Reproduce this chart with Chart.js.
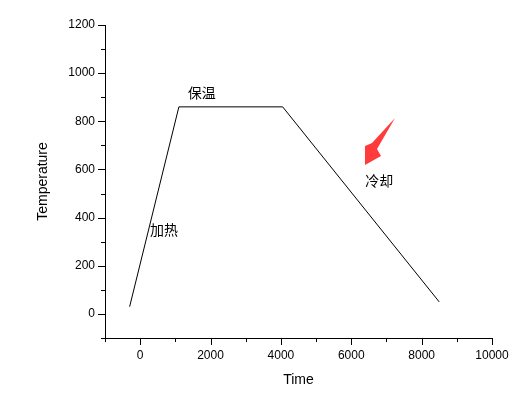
<!DOCTYPE html>
<html lang="zh">
<head>
    <meta charset="UTF-8">
    <title>Temperature vs Time</title>
    <style>
        html, body { margin: 0; padding: 0; background: #fff; }
        .wrap { width: 526px; height: 398px; }
    </style>
    <script src="https://cdn.jsdelivr.net/npm/chart.js"></script>
</head>
<body>
    <div class="wrap"><canvas id="chart" width="526" height="398"></canvas></div>
    <script>
        // process curve: heat up, hold, cool down
        const times = [-300, 1100, 4050, 8500];
        const temps = [30, 860, 860, 50];

        const xTickLabels = [0, 2000, 4000, 6000, 8000, 10000];
        const yTickLabels = [0, 200, 400, 600, 800, 1000, 1200];

        // text labels placed at data positions
        const notes = [
            { text: '保温', x: 1350, y: 920 },
            { text: '加热', x: 280, y: 350 },
            { text: '冷却', x: 6400, y: 555 }
        ];

        const font = "'Liberation Sans', Arial, sans-serif";

        const extras = {
            id: 'extras',
            afterDraw(chart) {
                const ctx = chart.ctx;
                const xs = chart.scales.x, ys = chart.scales.y;
                const area = chart.chartArea;
                ctx.save();
                ctx.strokeStyle = '#000';
                ctx.lineWidth = 1;
                // x tick marks (major at labels, minor between)
                for (let v = -1000; v <= 10000; v += 1000) {
                    const px = Math.round(xs.getPixelForValue(v)) + 0.5;
                    const len = xTickLabels.includes(v) ? 7 : 4;
                    ctx.beginPath();
                    ctx.moveTo(px, area.bottom);
                    ctx.lineTo(px, area.bottom + len);
                    ctx.stroke();
                }
                // y tick marks
                for (let v = -100; v <= 1200; v += 100) {
                    const py = Math.round(ys.getPixelForValue(v)) + 0.5;
                    const len = yTickLabels.includes(v) ? 7 : 4;
                    ctx.beginPath();
                    ctx.moveTo(area.left, py);
                    ctx.lineTo(area.left - len, py);
                    ctx.stroke();
                }
                // chinese notes
                ctx.fillStyle = '#000';
                ctx.font = "14px 'Noto Sans CJK SC', sans-serif";
                ctx.textAlign = 'left';
                ctx.textBaseline = 'middle';
                notes.forEach(n => {
                    ctx.fillText(n.text, xs.getPixelForValue(n.x), ys.getPixelForValue(n.y));
                });
                // red arrow pointing at the cooling label
                ctx.fillStyle = '#ff3b3b';
                ctx.beginPath();
                ctx.moveTo(395, 118);
                ctx.lineTo(377, 149);
                ctx.lineTo(381, 156);
                ctx.lineTo(365, 165);
                ctx.lineTo(365, 146);
                ctx.lineTo(372, 143);
                ctx.closePath();
                ctx.fill();
                ctx.restore();
            }
        };

        new Chart(document.getElementById('chart'), {
            type: 'scatter',
            data: {
                datasets: [{
                    data: times.map((t, i) => ({ x: t, y: temps[i] })),
                    showLine: true,
                    borderColor: '#000',
                    borderWidth: 1,
                    pointRadius: 0,
                    tension: 0
                }]
            },
            options: {
                responsive: false,
                animation: false,
                layout: { padding: { top: 25, right: 34, left: 35, bottom: 0 } },
                plugins: {
                    legend: { display: false },
                    tooltip: { enabled: false }
                },
                scales: {
                    x: {
                        type: 'linear',
                        min: -1000,
                        max: 10000,
                        afterFit(scale) { scale.height = 60; },
                        border: { display: true, color: '#000', width: 1 },
                        grid: { drawOnChartArea: false, tickLength: 7, tickColor: 'transparent' },
                        ticks: {
                            stepSize: 1000,
                            autoSkip: false,
                            maxRotation: 0,
                            padding: 3,
                            color: '#000',
                            font: { family: font, size: 12 },
                            callback: v => xTickLabels.includes(v) ? String(v) : ''
                        },
                        title: {
                            display: true,
                            text: 'Time',
                            color: '#000',
                            font: { family: font, size: 14 },
                            padding: { top: 6, bottom: 9 }
                        }
                    },
                    y: {
                        type: 'linear',
                        min: -100,
                        max: 1200,
                        afterFit(scale) { scale.width = 70; },
                        border: { display: true, color: '#000', width: 1 },
                        grid: { drawOnChartArea: false, tickLength: 7, tickColor: 'transparent' },
                        ticks: {
                            stepSize: 100,
                            autoSkip: false,
                            padding: 3,
                            color: '#000',
                            font: { family: font, size: 12 },
                            callback: v => yTickLabels.includes(v) ? String(v) : ''
                        },
                        title: {
                            display: true,
                            text: 'Temperature',
                            color: '#000',
                            font: { family: font, size: 14 },
                            padding: { top: 0, bottom: 0 }
                        }
                    }
                }
            },
            plugins: [extras]
        });
    </script>
</body>
</html>
